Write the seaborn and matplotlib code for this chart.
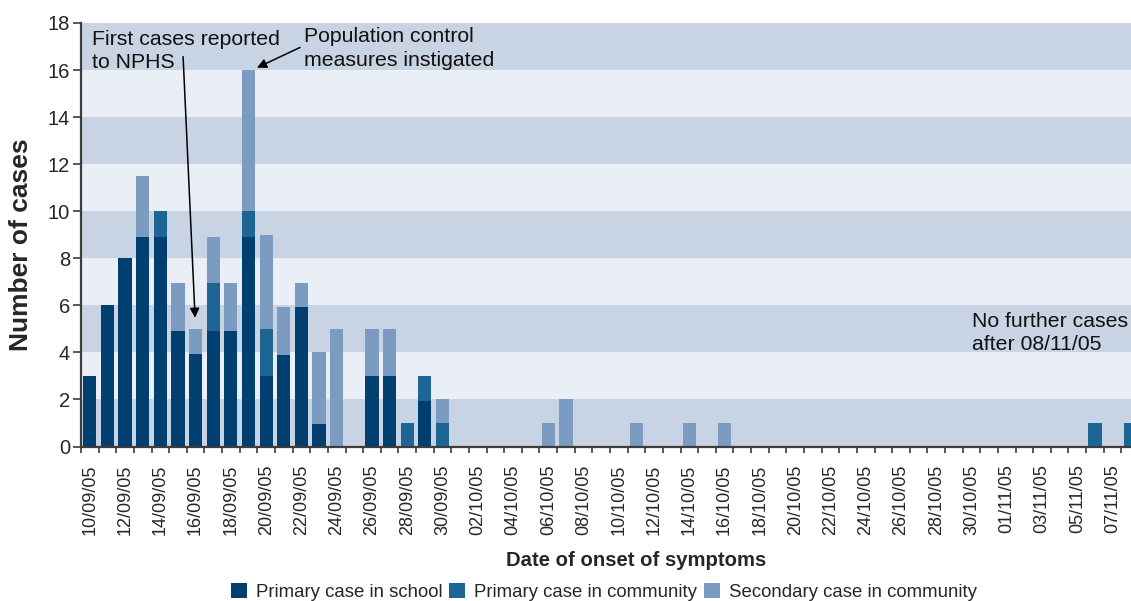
import pandas as pd
import numpy as np
import matplotlib.pyplot as plt
from matplotlib.patches import Patch
import seaborn as sns

# One bar per day, 10/09/05 .. 08/11/05
dates = pd.date_range('2005-09-10', '2005-11-08', freq='D').strftime('%d/%m/%y').tolist()

# Values, ten days per row
school = [3, 6, 8, 8.9, 8.9, 4.9, 3.95, 4.9, 4.9, 8.9,
          3, 3.9, 5.95, 0.95, 0, 0, 3, 3, 0, 1.95,
          0, 0, 0, 0, 0, 0, 0, 0, 0, 0,
          0, 0, 0, 0, 0, 0, 0, 0, 0, 0,
          0, 0, 0, 0, 0, 0, 0, 0, 0, 0,
          0, 0, 0, 0, 0, 0, 0, 0, 0, 0]
community = [0, 0, 0, 0, 1.1, 0, 0, 2.05, 0, 1.1,
             2, 0, 0, 0, 0, 0, 0, 0, 1, 1.05,
             1, 0, 0, 0, 0, 0, 0, 0, 0, 0,
             0, 0, 0, 0, 0, 0, 0, 0, 0, 0,
             0, 0, 0, 0, 0, 0, 0, 0, 0, 0,
             0, 0, 0, 0, 0, 0, 0, 1, 0, 1]
secondary = [0, 0, 0, 2.6, 0, 2.05, 1.05, 1.95, 2.05, 6,
             4, 2.05, 1, 3.05, 5, 0, 2, 2, 0, 0,
             1, 0, 0, 0, 0, 0, 1, 2, 0, 0,
             0, 1, 0, 0, 1, 0, 1, 0, 0, 0,
             0, 0, 0, 0, 0, 0, 0, 0, 0, 0,
             0, 0, 0, 0, 0, 0, 0, 0, 0, 0]

series_names = ['Primary case in school', 'Primary case in community', 'Secondary case in community']
colors = ['#003f6f', '#1d6594', '#7b9bc1']

df = pd.DataFrame({'date': dates, 'school': school, 'community': community, 'secondary': secondary})
df['lvl1'] = df['school']
df['lvl2'] = df['lvl1'] + df['community']
df['lvl3'] = df['lvl2'] + df['secondary']

sns.set_style('white')
plt.rcParams['font.family'] = ['Liberation Sans', 'DejaVu Sans']

fig = plt.figure(figsize=(11.31, 6.01), dpi=100)
ax = fig.add_axes([81 / 1131, (601 - 446.5) / 601, 1058 / 1131, 423.5 / 601])

# alternating background bands
for lo in range(0, 18, 2):
    ax.axhspan(lo, lo + 2, color='#c8d3e3' if (lo // 2) % 2 == 0 else '#eaeff7', lw=0, zorder=0)

# stacked bars: draw cumulative totals, tallest first
for col, c in zip(['lvl3', 'lvl2', 'lvl1'], colors[::-1]):
    sns.barplot(data=df, x='date', y=col, order=dates, color=c, saturation=1,
                width=0.75, errorbar=None, ax=ax, zorder=2, linewidth=0, edgecolor='none')

ax.set_xlim(-0.5, len(dates) - 0.5)
ax.set_ylim(0, 18)
ax.set_yticks(range(0, 19, 2))
ax.set_xticks(range(0, len(dates), 2))
ax.set_xticklabels(dates[::2], rotation=90)
ax.set_xticks(np.arange(-0.5, len(dates), 1), minor=True)
ax.set_xlabel('')
ax.set_ylabel('')

for s in ['top', 'right']:
    ax.spines[s].set_visible(False)
for s in ['left', 'bottom']:
    ax.spines[s].set_color('#3c3c3c')
    ax.spines[s].set_linewidth(1.6)
    ax.spines[s].set_zorder(3)

ax.tick_params(axis='y', direction='out', length=6, width=1.2, color='#3c3c3c',
               labelsize=14.5, pad=2, left=True)
ax.tick_params(axis='x', which='major', length=0, labelsize=13, pad=13)
ax.tick_params(axis='x', which='minor', direction='out', length=4.5, width=1.2,
               color='#3c3c3c', bottom=True)

# annotations
txt = dict(fontsize=15.3, color='#111111', va='top', ha='left', linespacing=1.3)
ax.text(0.12, 17.72, 'First cases reported\nto NPHS', **txt)
ax.text(12.15, 17.82, 'Population control\nmeasures instigated', **txt)
ax.text(50.04, 5.72, 'No further cases\nafter 08/11/05', **txt)
arrow = dict(arrowstyle='-|>', color='black', lw=1.1, mutation_scale=14, shrinkA=0, shrinkB=0)
ax.annotate('', xy=(5.97, 5.47), xytext=(5.29, 16.57), arrowprops=arrow)
ax.annotate('', xy=(9.48, 16.1), xytext=(11.92, 16.96), arrowprops=arrow)

fig.text(21 / 1131, 1 - 245 / 601, 'Number of cases', rotation=90, fontsize=19,
         fontweight='bold', ha='center', va='center')
fig.text(636 / 1131, 1 - 561 / 601, 'Date of onset of symptoms', fontsize=14.6,
         fontweight='bold', ha='center', va='center')

handles = [Patch(facecolor=c, edgecolor='none') for c in colors]
fig.legend(handles, series_names, loc='center', bbox_to_anchor=(604 / 1131, 1 - 592 / 601),
           ncol=3, frameon=False, fontsize=13.4, handlelength=0.85, handleheight=0.85,
           handletextpad=0.5, columnspacing=0.35, borderpad=0)

fig.savefig('out.png', dpi=100)
